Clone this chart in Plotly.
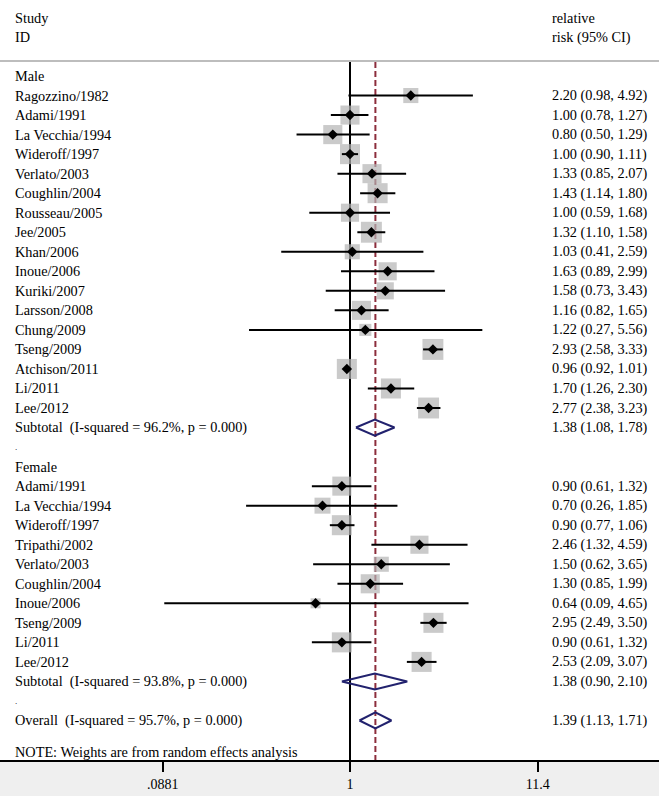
import numpy as np
import plotly.graph_objects as go

# ---- data ----
male_studies = ["Ragozzino/1982", "Adami/1991", "La Vecchia/1994", "Wideroff/1997",
                "Verlato/2003", "Coughlin/2004", "Rousseau/2005", "Jee/2005", "Khan/2006",
                "Inoue/2006", "Kuriki/2007", "Larsson/2008", "Chung/2009", "Tseng/2009",
                "Atchison/2011", "Li/2011", "Lee/2012"]
male_rr = [2.20, 1.00, 0.80, 1.00, 1.33, 1.43, 1.00, 1.32, 1.03, 1.63, 1.58, 1.16, 1.22,
           2.93, 0.96, 1.70, 2.77]
male_lo = [0.98, 0.78, 0.50, 0.90, 0.85, 1.14, 0.59, 1.10, 0.41, 0.89, 0.73, 0.82, 0.27,
           2.58, 0.92, 1.26, 2.38]
male_hi = [4.92, 1.27, 1.29, 1.11, 2.07, 1.80, 1.68, 1.58, 2.59, 2.99, 3.43, 1.65, 5.56,
           3.33, 1.01, 2.30, 3.23]
male_weight = [2.5, 4.0, 4.0, 4.4, 4.0, 4.4, 3.6, 4.8, 2.5, 3.6, 3.2, 4.0, 1.6, 4.8,
               4.4, 4.4, 4.8]

female_studies = ["Adami/1991", "La Vecchia/1994", "Wideroff/1997", "Tripathi/2002",
                  "Verlato/2003", "Coughlin/2004", "Inoue/2006", "Tseng/2009", "Li/2011",
                  "Lee/2012"]
female_rr = [0.90, 0.70, 0.90, 2.46, 1.50, 1.30, 0.64, 2.95, 0.90, 2.53]
female_lo = [0.61, 0.26, 0.77, 1.32, 0.62, 0.85, 0.09, 2.49, 0.61, 2.09]
female_hi = [1.32, 1.85, 1.06, 4.59, 3.65, 1.99, 4.65, 3.50, 1.32, 3.07]
female_weight = [4.0, 2.8, 4.4, 3.6, 2.5, 4.0, 1.1, 4.4, 4.4, 4.4]

male_sub = (1.38, 1.08, 1.78)
male_i2 = 96.2
female_sub = (1.38, 0.90, 2.10)
female_i2 = 93.8
overall = (1.39, 1.13, 1.71)
overall_i2 = 95.7

tick_vals = [0.0881, 1, 11.4]
tick_text = [".0881", "1", "11.4"]

# ---- layout constants (pixels of the 659x796 page) ----
W, H = 659, 796
ROW_PX = 19.53
TOP_ROW_PX = 76
AXIS_PX = 760
PX_PER_DEC = 177.6
ONE_PX = 350
LEFT_X = 13
RIGHT_X = 550

FONT = "Liberation Serif, Times New Roman, serif"
FS = 14.3
BOX = "#b3b3b3"
DIAMOND = "#22226e"
DASH = "#8c2d3c"


def row_of(px):
    return (px - TOP_ROW_PX) / ROW_PX


y_top, y_bot = row_of(0), row_of(AXIS_PX)
x_range = [(0 - ONE_PX) / PX_PER_DEC, (W - ONE_PX) / PX_PER_DEC]

traces = []
annotations = []


def text_at(x_px, row, txt, size=FS):
    annotations.append(dict(x=x_px / W, y=row, xref="paper", yref="y", text=txt,
                            showarrow=False, xanchor="left", yanchor="middle",
                            font=dict(family=FONT, size=size, color="black")))


def label(row, left, right=None, size=FS):
    text_at(LEFT_X, row, left, size)
    if right:
        text_at(RIGHT_X, row, right, size)


def ci_text(est, lo, hi):
    return f"{est:.2f} ({lo:.2f}, {hi:.2f})"


def add_studies(names, rr, lo, hi, wt, start):
    rows = [start + i for i in range(len(names))]
    sizes = [9.55 * np.sqrt(w) for w in wt]
    traces.append(go.Scatter(x=rr, y=rows, mode="markers",
                             marker=dict(symbol="square", size=sizes, color=BOX,
                                         line=dict(width=0)),
                             hoverinfo="skip", showlegend=False))
    xs, ys = [], []
    for r, l, h in zip(rows, lo, hi):
        xs += [l, h, None]
        ys += [r, r, None]
    traces.append(go.Scatter(x=xs, y=ys, mode="lines",
                             line=dict(color="black", width=2),
                             hoverinfo="skip", showlegend=False))
    traces.append(go.Scatter(x=rr, y=rows, mode="markers",
                             marker=dict(symbol="diamond", size=8, color="black"),
                             text=names, hoverinfo="text+x", showlegend=False))
    for r, n, e, l, h in zip(rows, names, rr, lo, hi):
        label(r, n, ci_text(e, l, h))


def add_diamond(est, row, half=0.41):
    e, l, h = est
    traces.append(go.Scatter(x=[l, e, h, e, l], y=[row, row - half, row, row + half, row],
                             mode="lines", line=dict(color=DIAMOND, width=2),
                             hoverinfo="skip", showlegend=False))


# reference lines: null (1) and overall estimate
traces.append(go.Scatter(x=[1, 1], y=[row_of(62), y_bot], mode="lines",
                         line=dict(color="black", width=2),
                         hoverinfo="skip", showlegend=False))
traces.append(go.Scatter(x=[overall[0], overall[0]], y=[row_of(62), y_bot], mode="lines",
                         line=dict(color=DASH, width=2, dash="6px,3px"),
                         hoverinfo="skip", showlegend=False))

# headers
text_at(LEFT_X, row_of(18), "Study")
text_at(LEFT_X, row_of(37), "ID")
text_at(RIGHT_X, row_of(18), "relative")
text_at(RIGHT_X, row_of(37), "risk (95% CI)")

# male block
label(0, "Male")
add_studies(male_studies, male_rr, male_lo, male_hi, male_weight, 1)
r = 1 + len(male_studies)
add_diamond(male_sub, r)
label(r, f"Subtotal  (I-squared = {male_i2:.1f}%, p = 0.000)", ci_text(*male_sub))
label(r + 1, ".", size=9)

# female block
r0 = r + 2
label(r0, "Female")
add_studies(female_studies, female_rr, female_lo, female_hi, female_weight, r0 + 1)
r = r0 + 1 + len(female_studies)
add_diamond(female_sub, r)
label(r, f"Subtotal  (I-squared = {female_i2:.1f}%, p = 0.000)", ci_text(*female_sub))
label(r + 1, ".", size=9)

# overall
r = r + 2
add_diamond(overall, r)
label(r, f"Overall  (I-squared = {overall_i2:.1f}%, p = 0.000)", ci_text(*overall))
label(row_of(752), "NOTE: Weights are from random effects analysis")

fig = go.Figure(data=traces)
fig.update_layout(
    width=W, height=H,
    margin=dict(l=0, r=0, t=0, b=H - AXIS_PX, autoexpand=False),
    paper_bgcolor="#efefef", plot_bgcolor="white",
    annotations=annotations,
    shapes=[dict(type="line", xref="paper", yref="y", x0=0, x1=1,
                 y0=row_of(61), y1=row_of(61), line=dict(color="#bdbdbd", width=2))],
    xaxis=dict(type="log", range=x_range, tickvals=tick_vals, ticktext=tick_text,
               showgrid=False, zeroline=False, showline=True, linecolor="black",
               linewidth=2, ticks="outside", ticklen=10, tickwidth=2, tickcolor="black",
               tickfont=dict(family=FONT, size=14, color="black"), fixedrange=True),
    yaxis=dict(range=[y_bot, y_top], visible=False, fixedrange=True),
)
# page has default 8px body margin; drop it so the figure fills the window
fig.write_html("out.html", config={"displayModeBar": False},
               post_script="document.body.style.margin='0';")
